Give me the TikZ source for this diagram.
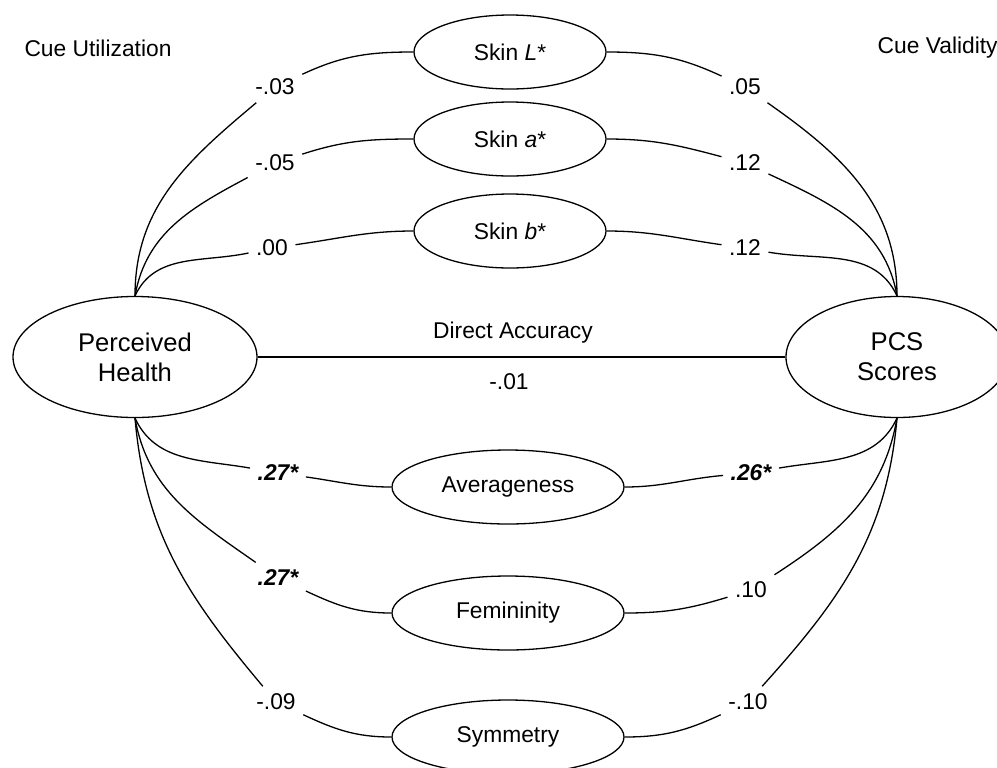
\documentclass[tikz,border=0pt]{standalone}
\usepackage{fontspec}
\setmainfont{Liberation Sans}
\usetikzlibrary{shapes.geometric}
\tikzstyle{bigbox} = [
    draw,
    ellipse,
    align=center,
    inner sep=0pt,
    minimum height=60.5pt,
    font=\fontsize{12.8}{15}\selectfont
    ]
\tikzstyle{cuebox} = [
    draw,
    ellipse,
    inner sep=0pt,
    minimum width=96pt,
    minimum height=37pt,
    font=\fontsize{11.4}{13}\selectfont
    ]
\tikzstyle{coef} = [
    inner sep=3.5pt,
    font=\fontsize{11.4}{13}\selectfont
    ]
\tikzstyle{sigcoef} = [
    coef,
    font=\fontsize{11.4}{13}\selectfont\bfseries\itshape
    ]

\begin{document}
\begin{tikzpicture}[x=0.5pt,y=0.5pt,line width=0.65pt]
\useasboundingbox (0,0) rectangle (997,-767);
\node[bigbox, minimum width=122pt] (health) at (135,-357) {Perceived\\Health};
\node[bigbox, minimum width=111pt] (pcs) at (897,-357) {PCS\\Scores};

\node[cuebox] (skinL) at (510,-52) {Skin \textit{L}*};
\node[cuebox] (skinA) at (510,-139) {Skin \textit{a}*};
\node[cuebox] (skinB) at (510,-231) {Skin \textit{b}*};
\node[cuebox, minimum width=116pt] (avg) at (508,-487) {Averageness};
\node[cuebox, minimum width=116pt] (fem) at (508,-613) {Femininity};
\node[cuebox, minimum width=116pt] (sym) at (508,-737) {Symmetry};

\node[coef] (utilization) at (98,-48) {Cue Utilization};
\node[coef, anchor=west] (validity) at (870,-48) {Cue Validity};

% cue utilization
\node[coef] (uL) at (275,-87) {-.03};
\node[coef] (uA) at (275,-163) {-.05};
\node[coef] (uB) at (272,-248) {.00};
\node[sigcoef] (uAvg) at (278,-473) {.27*};
\node[sigcoef] (uFem) at (278,-578) {.27*};
\node[coef] (uSym) at (276,-702) {-.09};
% cue validity
\node[coef] (vL) at (745,-87) {.05};
\node[coef] (vA) at (745,-163) {.12};
\node[coef] (vB) at (745,-248) {.12};
\node[sigcoef] (vAvg) at (751,-473) {.26*};
\node[coef] (vFem) at (751,-590) {.10};
\node[coef] (vSym) at (748,-702) {-.10};

\node[coef] (direct) at (513,-333) {Direct Accuracy};
\node[coef] (dvalue) at (509,-382) {-.01};
\draw (health.east) -- (pcs.west);

\draw (health.north) to[out=90,in=220] (uL);
\draw (uL) to[out=25,in=180] (skinL.west);
\draw (health.north) to[out=80,in=208] (uA);
\draw (uA) to[out=18,in=180] (skinA.west);
\draw (health.north) to[out=65,in=192] (uB);
\draw (uB) to[out=8,in=180] (skinB.west);
\draw (health.south) to[out=-65,in=170] (uAvg);
\draw (uAvg) to[out=-8,in=180] (avg.west);
\draw (health.south) to[out=-80,in=145] (uFem);
\draw (uFem) to[out=-25,in=180] (fem.west);
\draw (health.south) to[out=-85,in=130] (uSym);
\draw (uSym) to[out=-25,in=180] (sym.west);

\draw (skinL.east) to[out=0,in=155] (vL);
\draw (vL) to[out=-35,in=90] (pcs.north);
\draw (skinA.east) to[out=0,in=165] (vA);
\draw (vA) to[out=-25,in=100] (pcs.north);
\draw (skinB.east) to[out=0,in=172] (vB);
\draw (vB) to[out=-10,in=115] (pcs.north);
\draw (avg.east) to[out=0,in=185] (vAvg);
\draw (vAvg) to[out=10,in=-115] (pcs.south);
\draw (fem.east) to[out=0,in=197] (vFem);
\draw (vFem) to[out=33,in=-100] (pcs.south);
\draw (sym.east) to[out=0,in=205] (vSym);
\draw (vSym) to[out=48,in=-95] (pcs.south);
\end{tikzpicture}
\end{document}
